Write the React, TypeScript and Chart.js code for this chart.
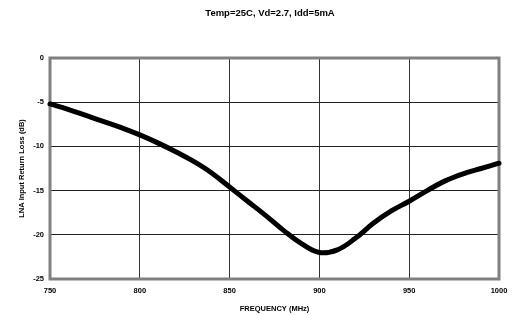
import React, { useEffect, useRef } from "react";
import { Chart, registerables } from "chart.js";

Chart.register(...registerables);

const TITLE = "Temp=25C, Vd=2.7, Idd=5mA";
const X_TITLE = "FREQUENCY (MHz)";
const Y_TITLE = "LNA Input Return Loss (dB)";

const frequency = [750, 760, 770, 780, 790, 800, 810, 820, 830, 840, 850, 860, 870, 880, 890, 900, 910, 920, 930, 940, 950, 960, 970, 980, 990, 1000];
const returnLoss = [-5.2, -5.8, -6.5, -7.2, -7.9, -8.7, -9.6, -10.6, -11.7, -13.0, -14.6, -16.2, -17.8, -19.5, -21.0, -22.0, -21.7, -20.4, -18.7, -17.3, -16.2, -15.0, -13.9, -13.1, -12.5, -11.9];

const X_MIN = 750, X_MAX = 1000, X_STEP = 50;
const Y_MIN = -25, Y_MAX = 0, Y_STEP = 5;

const FONT = "'Liberation Sans', Arial, sans-serif";

export default function App() {
  const ref = useRef<HTMLCanvasElement | null>(null);
  useEffect(() => {
    if (!ref.current) return;
    const framePlugin = {
      id: "frame",
      beforeDatasetsDraw(chart: any) {
        const { ctx, chartArea: a } = chart;
        ctx.save();
        ctx.strokeStyle = "#808080";
        ctx.lineWidth = 3;
        ctx.strokeRect(a.left, a.top, a.right - a.left, a.bottom - a.top);
        ctx.restore();
      },
      afterDraw(chart: any) {
        const { ctx } = chart;
        ctx.save();
        ctx.fillStyle = "#000";
        ctx.font = `bold 9.5px ${FONT}`;
        ctx.textAlign = "center";
        ctx.textBaseline = "middle";
        ctx.fillText(TITLE, 270, 13);
        ctx.restore();
      },
    };
    const chart = new Chart(ref.current, {
      type: "line",
      data: {
        datasets: [
          {
            data: frequency.map((f, i) => ({ x: f, y: returnLoss[i] })),
            borderColor: "#000",
            borderWidth: 5,
            borderCapStyle: "round",
            borderJoinStyle: "round",
            tension: 0.4,
            pointRadius: 0,
            fill: false,
            clip: false as any,
          },
        ],
      },
      options: {
        responsive: false,
        animation: false,
        devicePixelRatio: 1,
        layout: { padding: { top: 58, right: 18, left: 0, bottom: 0 } },
        plugins: { legend: { display: false }, title: { display: false }, tooltip: { enabled: false } },
        scales: {
          x: {
            type: "linear",
            min: X_MIN,
            max: X_MAX,
            afterFit: (s: any) => { s.height = 36; },
            ticks: { stepSize: X_STEP, color: "#000", font: { family: FONT, size: 7.5, weight: "bold" }, padding: 7, maxRotation: 0, callback: (v: any) => String(v) },
            grid: { color: "#333", lineWidth: 1, drawTicks: false },
            border: { display: false },
            title: { display: true, text: X_TITLE, color: "#000", font: { family: FONT, size: 7.5, weight: "bold" }, padding: { top: 0, bottom: 2 } },
          },
          y: {
            type: "linear",
            min: Y_MIN,
            max: Y_MAX,
            afterFit: (s: any) => { s.width = 50; },
            ticks: { stepSize: Y_STEP, color: "#000", font: { family: FONT, size: 7.5, weight: "bold" }, padding: 6, callback: (v: any) => String(v) },
            grid: { color: "#222", lineWidth: 1, drawTicks: false },
            border: { display: false },
            title: { display: true, text: Y_TITLE, color: "#000", font: { family: FONT, size: 7.5, weight: "bold" }, padding: { top: 17, bottom: 0 } },
          },
        },
      } as any,
      plugins: [framePlugin],
    });
    return () => chart.destroy();
  }, []);
  return (
    <div style={{ position: "absolute", left: 0, top: 0, width: 517, height: 315, background: "#fff" }}>
      <canvas ref={ref} width={517} height={315} style={{ display: "block", width: 517, height: 315 }} />
    </div>
  );
}
